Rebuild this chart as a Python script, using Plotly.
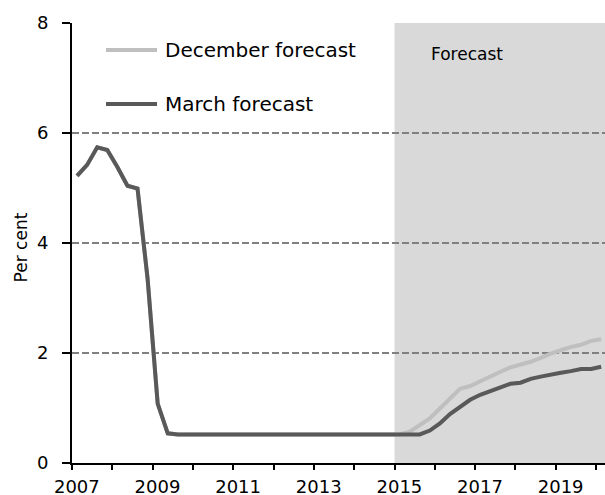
import plotly.graph_objects as go

# Quarterly points, 2007Q1 .. 2020Q1, plotted at quarter mid-points
quarters = [2007.125 + 0.25 * i for i in range(53)]

history = [5.22, 5.42, 5.74, 5.69, 5.38, 5.04, 4.99, 3.35, 1.08, 0.54,
           0.52, 0.52, 0.52, 0.52, 0.52, 0.52, 0.52, 0.52, 0.52, 0.52,
           0.52, 0.52, 0.52, 0.52, 0.52, 0.52, 0.52, 0.52, 0.52, 0.52,
           0.52, 0.52]

december_fc = [0.57, 0.69, 0.81, 0.99, 1.18, 1.35, 1.40, 1.49, 1.59, 1.66,
               1.74, 1.79, 1.84, 1.91, 1.99, 2.05, 2.11, 2.15, 2.22, 2.25]
march_fc = [0.52, 0.52, 0.59, 0.72, 0.89, 1.02, 1.15, 1.24, 1.31, 1.38,
            1.44, 1.46, 1.53, 1.57, 1.61, 1.64, 1.67, 1.71, 1.71, 1.75]

december = history + [0.52] + december_fc
march = history + [0.52] + march_fc

year_ticks = list(range(2007, 2021))
label_years = [2007, 2009, 2011, 2013, 2015, 2017, 2019]
label_text = [str(y) for y in label_years]
y_ticks = [0, 2, 4, 6, 8]

forecast_start = 2015
x_end = 2020.22

font_family = "DejaVu Sans, sans-serif"
light = "#bfbfbf"
dark = "#595959"

fig = go.Figure()
fig.add_trace(go.Scatter(x=quarters, y=december, mode="lines",
                         line=dict(color=light, width=4),
                         name="December forecast", showlegend=False))
fig.add_trace(go.Scatter(x=quarters, y=march, mode="lines",
                         line=dict(color=dark, width=4),
                         name="March forecast", showlegend=False))
# invisible trace to activate label axis
fig.add_trace(go.Scatter(x=[2007], y=[0], xaxis="x2", mode="markers",
                         marker=dict(opacity=0), showlegend=False, hoverinfo="skip"))

# Forecast shaded region
fig.add_shape(type="rect", xref="x", yref="y", x0=forecast_start, x1=x_end,
              y0=0, y1=8, fillcolor="#d9d9d9", line=dict(width=0), layer="below")
fig.add_annotation(x=0.8124, xref="paper", y=7.44, yref="y", text="Forecast",
                   showarrow=False, font=dict(size=17, color="#000000", family=font_family))

# Y-axis title
fig.add_annotation(x=-0.0957, xref="paper", y=0.49, yref="paper", text="Per cent",
                   textangle=-90, showarrow=False, xanchor="center", yanchor="middle",
                   font=dict(size=17, color="#000000", family=font_family))

# Manual legend
legend_items = [("December forecast", light, 0.9386), ("March forecast", dark, 0.8159)]
for label, col, yp in legend_items:
    fig.add_shape(type="line", xref="paper", yref="paper", x0=0.0638, x1=0.1595,
                  y0=yp, y1=yp, line=dict(color=col, width=4))
    fig.add_annotation(x=0.1707, xref="paper", y=yp, yref="paper", text=label,
                       showarrow=False, xanchor="left", yanchor="middle",
                       font=dict(size=20, color="#000000", family=font_family))

fig.update_layout(
    width=605, height=495,
    margin=dict(l=72, r=0, t=23, b=32, autoexpand=False),
    paper_bgcolor="white", plot_bgcolor="white",
    font=dict(family=font_family, size=18, color="#000000"),
    showlegend=False,
    xaxis=dict(range=[2007, x_end], tickvals=year_ticks, showticklabels=False,
               showgrid=False, zeroline=False, showline=True, linecolor="black",
               linewidth=2, ticks="outside", ticklen=5, tickwidth=2, tickcolor="black"),
    xaxis2=dict(range=[2007 - 0.12, x_end - 0.12], overlaying="x", side="bottom",
                tickvals=label_years, ticktext=label_text, showgrid=False,
                zeroline=False, showline=False, ticks="", ticklabelstandoff=11,
                tickfont=dict(size=18)),
    yaxis=dict(range=[0, 8], tickvals=y_ticks, showgrid=True, gridcolor="#808080",
               griddash="7px,3px", gridwidth=1.5, zeroline=False, showline=True,
               linecolor="black", linewidth=2, ticks="outside", ticklen=8, tickwidth=2,
               tickcolor="black", tickfont=dict(size=18), ticklabelstandoff=10),
)

fig.write_html("out.html", config={"displayModeBar": False},
               post_script="document.body.style.margin='0';document.body.style.overflow='hidden';")
